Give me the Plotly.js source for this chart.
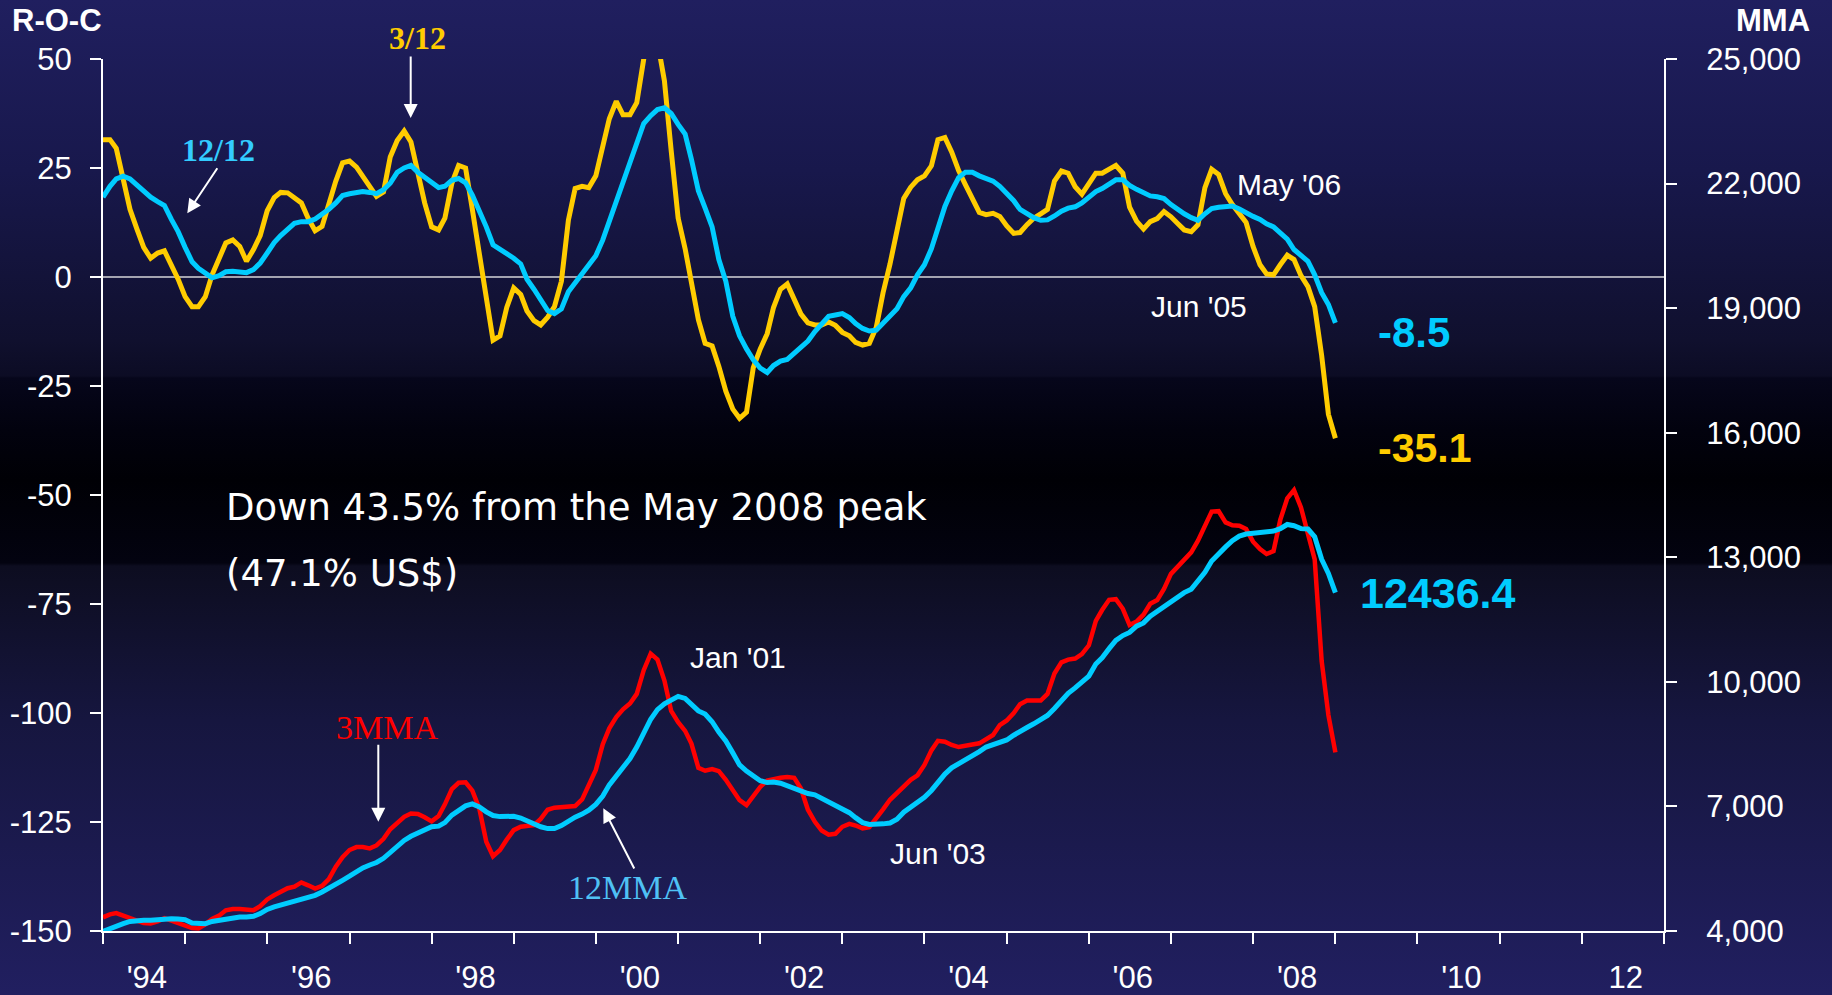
<!DOCTYPE html>
<html>
<head>
<meta charset="utf-8">
<script src="https://cdn.plot.ly/plotly-3.0.1.min.js"></script>
<style>
html,body{margin:0;padding:0;width:1832px;height:995px;overflow:hidden;}
body{background:linear-gradient(to bottom,#201f5f 0px,#18184c 170px,#10102e 340px,#0c0c24 376px,#06061b 378px,#02020e 430px,#000005 480px,#030310 563px,#0d0d20 566px,#16163f 720px,#211f60 995px);}
#chart{width:1832px;height:995px;}
</style>
</head>
<body>
<div id="chart"></div>
<script>
// Monthly data, Jan 1994 .. Jan 2009 (one row per year)
// Rate-of-change, 3/12 (yellow) – left axis
const roc3 = [
  31.5, 31.5, 29.5, 22, 15.5, 11, 6.8, 4.3, 5.5, 6, 2.8, -0.5,
  -4.5, -6.8, -6.8, -4.5, 0.5, 4.2, 7.8, 8.5, 7, 3.6, 6.3, 9.5,
  15.2, 18.2, 19.4, 19.3, 18.2, 17, 13.5, 10.6, 11.6, 17, 22, 26.2,
  26.6, 25.2, 23, 20.7, 18.5, 19.5, 27.5, 31.3, 33.5, 31, 23.5, 17,
  11.5, 10.8, 13.5, 21.5, 25.6, 25, 15.5, 5.5, -5.5, -14.5, -13.5, -7,
  -2.5, -4, -7.8, -10, -11, -9.2, -6.8, -1, 13, 20.3, 20.8, 20.5,
  23.2, 29.5, 36.3, 40.3, 37.2, 37.2, 40, 50, 57, 54, 45, 29,
  13.5, 6.5, -2, -9.8, -15.2, -15.8, -20.5, -26.2, -30.3, -32.4, -31, -20.8,
  -16.5, -13, -7, -2.8, -1.6, -4.8, -8.5, -10.5, -11, -11, -10.3, -11.1,
  -12.7, -13.5, -15, -15.6, -15.2, -11.5, -3.6, 3, 11, 18, 20.6, 22.3,
  23.2, 25.5, 31.5, 32, 28.7, 24.4, 21.2, 18, 14.8, 14.3, 14.6, 13.9,
  11.7, 10, 10.2, 12, 13.5, 14.5, 15.5, 22, 24.3, 23.8, 20.7, 19,
  21.5, 23.8, 23.8, 24.8, 25.6, 23.8, 16, 12.8, 11, 12.7, 13.4, 15,
  13.8, 12.2, 10.8, 10.4, 12, 20.5, 24.7, 23.5, 19.1, 16.6, 14.6, 12.5,
  7, 2.8, 0.7, 0.5, 2.8, 5, 4, 0.3, -2.2, -6.8, -18, -31.5,
  -37
];
// Rate-of-change, 12/12 (blue) – left axis
const roc12 = [
  18.3, 20.8, 22.5, 23.1, 22.5, 21.1, 19.8, 18.3, 17.3, 16.4, 13.2, 10.4,
  6.8, 3.5, 2, 0.7, -0.2, 0.3, 1.2, 1.3, 1, 1, 1.7, 3.2,
  5.5, 7.9, 9.5, 10.8, 12.3, 12.7, 12.7, 13.3, 14.4, 15.5, 17, 18.7,
  19.1, 19.4, 19.6, 19.4, 19.1, 20, 21.5, 24, 25, 25.6, 24, 22.9,
  21.6, 20.5, 20.8, 22.2, 22.6, 21.6, 18.8, 15.2, 11.5, 7.4, 6.4, 5.1,
  4.3, 3, -0.5, -2.8, -5.2, -7.7, -8.4, -7.3, -3.4, -1.4, 0.9, 2.9,
  4.9, 8.5, 12.8, 16.8, 21.5, 26.5, 30.8, 35.2, 37, 38.4, 38.8, 37.5,
  35, 32.8, 27, 19.8, 15.8, 11.5, 4, -1, -9, -13.5, -16.5, -19,
  -20.9, -21.9, -20.3, -19.3, -18.9, -17.6, -16.1, -14.7, -12.5, -10.6, -9, -8.7,
  -8.4, -9.3, -10.7, -11.8, -12.4, -12.2, -10.6, -9.1, -7.3, -4.5, -2.5, 0.5,
  2.8, 6.5, 11, 16.2, 19.7, 22.8, 24, 24, 23.2, 22.6, 22, 20.8,
  19.2, 17.5, 15.5, 14.5, 13.6, 13, 13.1, 14, 15.1, 15.8, 16.1, 17,
  18.3, 19.6, 20.3, 21.4, 22.3, 22.3, 21, 20.1, 19.3, 18.6, 18.4, 18,
  16.6, 15.4, 14.5, 13.6, 13, 14.5, 15.7, 16, 16.3, 16.3, 15.6, 14.6,
  13.9, 13.2, 12.2, 11.5, 10.2, 8.7, 6.3, 5.1, 3.6, 0.5, -3.6, -6.3,
  -10.5
];
// 3-month moving average (red) – right axis
const mma3 = [
  4330, 4400, 4430, 4370, 4300, 4230, 4190, 4180, 4230, 4310, 4250, 4200,
  4130, 4070, 4060, 4160, 4290, 4370, 4500, 4530, 4530, 4510, 4500, 4600,
  4760, 4860, 4950, 5030, 5070, 5170, 5100, 5020, 5090, 5250, 5550, 5780,
  5950, 6020, 6020, 5990, 6060, 6220, 6450, 6600, 6750, 6830, 6820, 6740,
  6640, 6770, 7050, 7420, 7570, 7580, 7380, 6950, 6150, 5800, 5950, 6200,
  6430, 6510, 6520, 6550, 6700, 6920, 6970, 6990, 7000, 7010, 7170, 7520,
  7880, 8500, 8880, 9150, 9340, 9480, 9710, 10280, 10680, 10540, 10030, 9300,
  9030, 8820, 8515, 7930, 7860, 7900, 7850, 7640, 7370, 7150, 7030, 7230,
  7470, 7620, 7665, 7690, 7710, 7690, 7430, 6920, 6630, 6420, 6320, 6340,
  6510, 6580, 6540, 6470, 6500, 6700, 6930, 7160, 7330, 7480, 7640, 7750,
  8000, 8350, 8580, 8560, 8480, 8430, 8470, 8490, 8520, 8610, 8720, 8960,
  9070, 9250, 9460, 9550, 9560, 9550, 9710, 10200, 10470, 10535, 10560, 10670,
  10880, 11470, 11730, 11975, 11990, 11760, 11370, 11450, 11620, 11880, 11970, 12240,
  12600, 12780, 12960, 13120, 13400, 13760, 14100, 14110, 13840, 13770, 13760, 13680,
  13375, 13200, 13080, 13150, 13900, 14420, 14620, 14200, 13580, 12950, 10500, 9200,
  8300
];
// 12-month moving average (blue) – right axis
const mma12 = [
  3990, 4060, 4130, 4177, 4230, 4257, 4257, 4257, 4280, 4297, 4297, 4290,
  4270, 4193, 4177, 4177, 4230, 4257, 4290, 4337, 4337, 4340, 4353, 4420,
  4520, 4580, 4625, 4680, 4740, 4790, 4812, 4860, 4940, 5025, 5125, 5220,
  5320, 5430, 5520, 5590, 5650, 5750, 5900, 6050, 6180, 6280, 6360, 6440,
  6510, 6525, 6610, 6790, 6910, 7015, 7060, 6990, 6870, 6780, 6755, 6763,
  6763, 6720, 6650, 6600, 6510, 6466, 6466, 6540, 6660, 6740, 6815, 6910,
  7050, 7250, 7520, 7730, 7940, 8153, 8430, 8800, 9100, 9330, 9470, 9560,
  9650, 9600, 9440, 9300, 9225, 9040, 8790, 8575, 8290, 8000, 7850, 7751,
  7620, 7575, 7590, 7560, 7500, 7460, 7380, 7310, 7280, 7200, 7120, 7020,
  6950, 6850, 6730, 6610, 6565, 6563, 6580, 6600, 6690, 6860, 6980, 7120,
  7220, 7385, 7590, 7780, 7930, 8025, 8120, 8200, 8320, 8430, 8490, 8560,
  8600, 8715, 8815, 8900, 8990, 9100, 9190, 9360, 9560, 9725, 9855, 9990,
  10140, 10430, 10580, 10800, 11000, 11115, 11190, 11340, 11420, 11580, 11700, 11820,
  11945, 12060, 12150, 12230, 12410, 12640, 12910, 13090, 13250, 13400, 13510, 13560,
  13575, 13620, 13631, 13631, 13690, 13790, 13760, 13690, 13680, 13495, 12950, 12610,
  12150
];
// Axis ticks / labels
const leftTicks = [-150, -125, -100, -75, -50, -25, 0, 25, 50];
const leftLabels = ['-150', '-125', '-100', '-75', '-50', '-25', '0', '25', '50'];
const rightTicks = [4000, 7000, 10000, 13000, 16000, 19000, 22000, 25000];
const labelYears = [1994, 1996, 1998, 2000, 2002, 2004, 2006, 2008, 2010, 2012];
const labelText = ["'94", "'96", "'98", "'00", "'02", "'04", "'06", "'08", "'10", "12"];
const firstYear = 1994, lastYear = 2013;

// month categories (first of each month)
const months = roc3.map((_, i) => {
  const y = firstYear + Math.floor(i / 12), mo = (i % 12) + 1;
  return y + '-' + String(mo).padStart(2, '0') + '-01';
});
const yearStarts = [];
for (let y = firstYear; y <= lastYear; y++) yearStarts.push(y + '-01-01');
const labelPos = labelYears.map(y => y + '-07-15');

const SANS = "Arial, 'Liberation Sans', sans-serif";
const SERIF = "'Times New Roman', 'Liberation Serif', serif";
const YEL = '#FFCC00', CYAN = '#00CCFF', RED = '#FF0000';

const traces = [
  {x: months, y: roc3, yaxis: 'y', mode: 'lines', line: {color: YEL, width: 5}},
  {x: months, y: roc12, yaxis: 'y', mode: 'lines', line: {color: CYAN, width: 5}},
  {x: months, y: mma3, yaxis: 'y2', mode: 'lines', line: {color: RED, width: 4.5}},
  {x: months, y: mma12, yaxis: 'y2', mode: 'lines', line: {color: CYAN, width: 5}}
];

// pixel helpers for annotation placement (plot area 103..1664 x 59..931)
const L = 103, R = 1664, T = 59, B = 931;
const px = v => (v - L) / (R - L);
const py = v => (B - v) / (B - T);

const tickFont = {family: SANS, size: 31, color: '#ffffff'};
function txt(text, x, y, font, xanchor) {
  return {text: text, xref: 'paper', yref: 'paper', x: px(x), y: py(y), showarrow: false,
          xanchor: xanchor || 'center', yanchor: 'middle', font: font};
}
function arrow(hx, hy, tx, ty) {
  return {text: '', xref: 'paper', yref: 'paper', x: px(hx), y: py(hy), ax: tx - hx, ay: ty - hy,
          showarrow: true, arrowhead: 2, arrowsize: 1.4, arrowwidth: 2, arrowcolor: '#ffffff'};
}

const annotations = [
  txt('R-O-C', 57, 21, {family: SANS, size: 31, color: '#fff', weight: 'bold'}),
  txt('MMA', 1773, 21, {family: SANS, size: 31, color: '#fff', weight: 'bold'}),
  txt('3/12', 417, 38, {family: SERIF, size: 32, color: YEL, weight: 'bold'}),
  arrow(410.7, 118, 410.7, 55),
  txt('12/12', 218, 150, {family: SERIF, size: 32, color: '#33CCFF', weight: 'bold'}),
  arrow(187.3, 213.3, 218.3, 166.7),
  txt('3MMA', 386.5, 727, {family: SERIF, size: 34, color: RED}),
  arrow(378.3, 821.7, 378.3, 743.3),
  txt('12MMA', 627, 887, {family: SERIF, size: 34, color: '#4FC1F4'}),
  arrow(603.3, 808.3, 635, 870),
  txt("Jan '01", 738, 657, {family: SANS, size: 30, color: '#fff'}),
  txt("Jun '03", 938, 853, {family: SANS, size: 30, color: '#fff'}),
  txt("Jun '05", 1199, 306, {family: SANS, size: 30, color: '#fff'}),
  txt("May '06", 1289, 185, {family: SANS, size: 30, color: '#fff'}),
  txt('Down 43.5% from the May 2008 peak', 224, 507, {family: "'DejaVu Sans', sans-serif", size: 37, color: '#fff'}, 'left'),
  txt('(47.1% US$)', 224, 574, {family: "'DejaVu Sans', sans-serif", size: 37, color: '#fff'}, 'left'),
  txt('-8.5', 1376, 332, {family: SANS, size: 42, color: CYAN, weight: 'bold'}, 'left'),
  txt('-35.1', 1376, 448, {family: SANS, size: 41, color: YEL, weight: 'bold'}, 'left'),
  txt('12436.4', 1358, 593, {family: SANS, size: 43, color: CYAN, weight: 'bold'}, 'left')
];

const yCommon = {showgrid: false, tickwidth: 2, tickcolor: '#ffffff', ticklen: 11};
const layout = {
  width: 1832, height: 995,
  margin: {l: L, r: 1832 - R, t: T, b: 995 - B, pad: 0},
  paper_bgcolor: 'rgba(0,0,0,0)', plot_bgcolor: 'rgba(0,0,0,0)',
  showlegend: false,
  xaxis: {
    type: 'date', range: [yearStarts[0], yearStarts[yearStarts.length - 1]],
    tickmode: 'array', tickvals: labelPos, ticktext: labelText, ticks: '',
    tickfont: tickFont, ticklabelstandoff: 18,
    showline: true, linecolor: '#ffffff', linewidth: 2, showgrid: false, zeroline: false,
    minor: {tickmode: 'array', tickvals: yearStarts, ticks: 'outside', ticklen: 11, tickwidth: 2, tickcolor: '#ffffff', showgrid: false}
  },
  yaxis: Object.assign({}, yCommon, {
    range: [-150, 50], tickmode: 'array', tickvals: leftTicks, ticktext: leftLabels, ticks: 'outside',
    tickfont: tickFont, ticklabelstandoff: 12,
    showline: true, linecolor: '#ffffff', linewidth: 2,
    zeroline: true, zerolinecolor: '#a4a4b0', zerolinewidth: 1.2
  }),
  yaxis3: Object.assign({}, yCommon, {
    overlaying: 'y', side: 'left', range: [-150, 50], tickmode: 'array', tickvals: leftTicks,
    ticks: 'inside', showticklabels: false, showline: false, zeroline: false
  }),
  yaxis2: Object.assign({}, yCommon, {
    overlaying: 'y', side: 'right', range: [4000, 25000], tickmode: 'array', tickvals: rightTicks,
    tickformat: ',d', ticks: 'outside', tickfont: tickFont, ticklabelstandoff: 23,
    showline: true, linecolor: '#ffffff', linewidth: 2, zeroline: false
  }),
  yaxis4: Object.assign({}, yCommon, {
    overlaying: 'y', side: 'right', range: [4000, 25000], tickmode: 'array', tickvals: rightTicks,
    ticks: 'inside', showticklabels: false, showline: false, zeroline: false
  }),
  annotations: annotations
};

Plotly.newPlot('chart', traces, layout, {displayModeBar: false, staticPlot: true});
</script>
</body>
</html>
